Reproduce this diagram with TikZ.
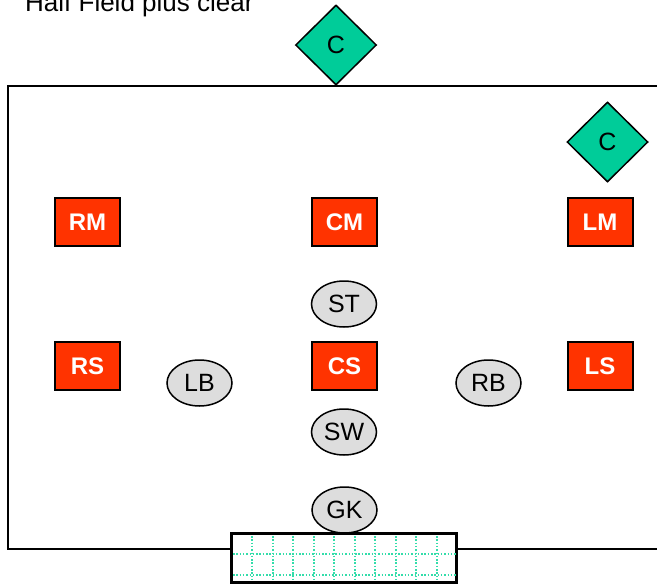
\documentclass[tikz,border=0pt]{standalone}
\usepackage{fontspec}
\setmainfont{Liberation Sans}
\usetikzlibrary{shapes.geometric}
\definecolor{cgreen}{RGB}{0,204,153}
\definecolor{pred}{RGB}{255,51,0}
\definecolor{pgray}{RGB}{221,221,221}
\definecolor{netdot}{RGB}{51,221,170}
\tikzset{
  cdiamond/.style={diamond, draw=black, line width=1.5pt, fill=cgreen, inner sep=0pt,
    minimum width=81pt, minimum height=80pt, font=\fontsize{25}{29}\selectfont},
  redbox/.style={rectangle, draw=black, line width=2pt, fill=pred, text=white,
    minimum width=65pt, minimum height=48pt, inner sep=0pt,
    font=\fontsize{24}{28}\selectfont\bfseries},
  grayell/.style={ellipse, draw=black, line width=1.5pt, fill=pgray, inner sep=0pt,
    minimum width=65pt, minimum height=46pt, font=\fontsize{25}{29}\selectfont},
  field/.style={draw=black, line width=2pt},
  netline/.style={draw=netdot, line width=2.2pt, dash pattern=on 1.5pt off 1.8pt},
}
\begin{document}
\begin{tikzpicture}[x=1pt,y=-1pt]
\useasboundingbox (0,0) rectangle (657,584);
% title
\node[anchor=base west, inner sep=0pt, font=\fontsize{26}{30}\selectfont] (title) at (25,11) {Half Field plus clear};
% field
\draw[field] (670,86) -- (8,86) -- (8,549) -- (670,549);
% diamonds
\node[cdiamond] (ctop) at (336,45) {C};
\node[cdiamond] (cright) at (607.5,142) {C};
% red boxes
\node[redbox] (RM) at (87.5,222) {RM};
\node[redbox] (CM) at (344.5,222) {CM};
\node[redbox] (LM) at (600,222) {LM};
\node[redbox] (RS) at (87.5,366) {RS};
\node[redbox] (CS) at (344.5,366) {CS};
\node[redbox] (LS) at (600,366) {LS};
% gray ellipses
\node[grayell] (ST) at (344,304) {ST};
\node[grayell] (LB) at (199.5,383) {LB};
\node[grayell] (RB) at (488.5,383) {RB};
\node[grayell] (SW) at (344,432) {SW};
\node[grayell] (GK) at (344.5,510) {GK};
% goal
\node[draw=black, line width=2pt, fill=white, minimum width=224pt, minimum height=48pt, inner sep=0pt] (goal) at (344,558) {};
\begin{scope}
\clip (goal.south west) rectangle (goal.north east);
\foreach \gx in {252.3,272.7,293.3,314,334.3,355,375.3,395.7,416.3,436.7}
  \draw[netline] (\gx,536) -- (\gx,582);
\foreach \gy in {554,575}
  \draw[netline] (233,\gy) -- (456,\gy);
\end{scope}
\draw[line width=2pt] (goal.south west) rectangle (goal.north east);
\end{tikzpicture}
\end{document}
